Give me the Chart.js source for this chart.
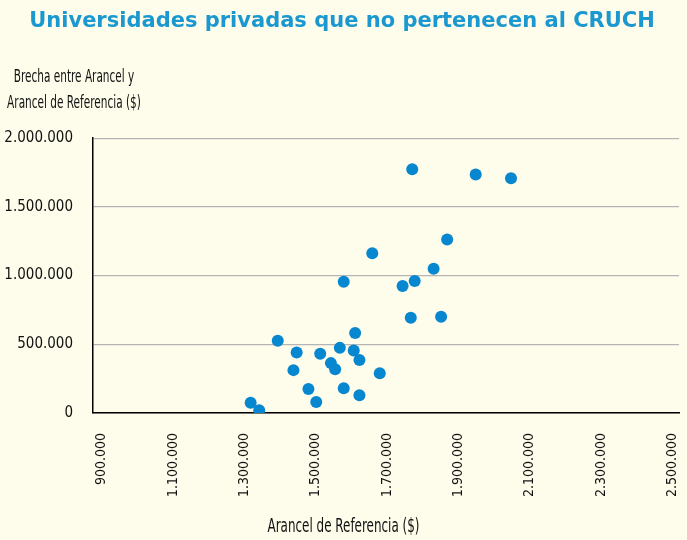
<!DOCTYPE html>
<html>
<head>
<meta charset="utf-8">
<script src="https://cdn.jsdelivr.net/npm/chart.js@4"></script>
<style>
    html, body { margin: 0; padding: 0; background: #fefcea; }
    #wrap { width: 687px; height: 540px; }
</style>
</head>
<body>
<div id="wrap"><canvas id="scatter-chart"></canvas></div>
<script>
// Arancel de referencia ($) de cada universidad
let aranceles = [1318000, 1342000, 1394000, 1447000, 1438000, 1480000, 1502000,
    1513000, 1543000, 1555000, 1568000, 1579000, 1579000, 1611000, 1607000,
    1623000, 1623000, 1659000, 1680000, 1744000, 1778000, 1767000, 1771000,
    1831000, 1852000, 1869000, 1949000, 2048000];
// Brecha entre arancel y arancel de referencia ($)
let brechas = [75000, 20000, 525000, 440000, 312000, 175000, 80000,
    431000, 363000, 319000, 474000, 956000, 180000, 582000, 455000,
    385000, 129000, 1163000, 290000, 925000, 961000, 693000, 1774000,
    1049000, 701000, 1263000, 1735000, 1708000];
let xTicks = [900000, 1100000, 1300000, 1500000, 1700000, 1900000, 2100000, 2300000, 2500000];
let yTicks = [0, 500000, 1000000, 1500000, 2000000];

let chartTitle = 'Universidades privadas que no pertenecen al CRUCH';
let xTitle = 'Arancel de Referencia ($)';
let yTitle = ['Brecha entre Arancel y', 'Arancel de Referencia ($)'];

let narrow = '"DejaVu Sans Condensed", "Liberation Sans Narrow", sans-serif';

function FormatNumber(v) {
    return String(v).replace(/\B(?=(\d{3})+(?!\d))/g, '.');
}

// squeeze the text sideways, the original uses a very condensed face
function DrawNarrowText(ctx, text, cx, cy, size, squeeze) {
    ctx.save();
    ctx.translate(cx, cy);
    ctx.scale(squeeze, 1);
    ctx.font = size + 'px ' + narrow;
    ctx.fillStyle = '#111';
    ctx.textAlign = 'center';
    ctx.textBaseline = 'middle';
    ctx.fillText(text, 0, 0);
    ctx.restore();
}

// axis captions: y caption sits horizontally above the axis, x caption centred on the page
let axisCaptions = {
    id: 'axisCaptions',
    afterDraw: function (chart) {
        let ctx = chart.ctx;
        let cx = chart.chartArea.left - 19;
        DrawNarrowText(ctx, yTitle[0], cx, 77, 18, 0.65);
        DrawNarrowText(ctx, yTitle[1], cx, 103, 18, 0.65);
        DrawNarrowText(ctx, xTitle, chart.width / 2, 527, 19, 0.7);
    }
};

function GenerateChart() {
    let points = aranceles.map(function (x, i) { return { x: x, y: brechas[i] }; });
    new Chart(document.getElementById('scatter-chart'), {
        type: 'scatter',
        data: {
            datasets: [{
                data: points,
                backgroundColor: '#0787cf',
                borderWidth: 0,
                pointRadius: 6,
                pointHoverRadius: 6,
            }]
        },
        options: {
            responsive: true,
            maintainAspectRatio: false,
            animation: false,
            layout: { padding: { left: 5, right: 8, top: 0, bottom: 38 } },
            plugins: {
                legend: { display: false },
                tooltip: { enabled: false },
                title: {
                    display: true,
                    text: chartTitle,
                    color: '#1b98cf',
                    font: { family: '"DejaVu Sans"', size: 21, weight: 'bold' },
                    padding: { top: 9, bottom: 104 }
                }
            },
            scales: {
                x: {
                    type: 'linear',
                    min: 876000,
                    max: 2519000,
                    afterBuildTicks: function (axis) {
                        axis.ticks = xTicks.map(function (v) { return { value: v }; });
                    },
                    afterFit: function (axis) {
                        axis.paddingLeft = 0;
                        axis.paddingRight = 0;
                        axis.height = 89;
                    },
                    grid: { display: false, drawTicks: false },
                    border: { display: true, color: '#000', width: 1.5 },
                    ticks: {
                        color: '#111',
                        font: { family: narrow, size: 14 },
                        minRotation: 90,
                        maxRotation: 90,
                        padding: 20,
                        callback: function (v) { return FormatNumber(v); }
                    }
                },
                y: {
                    min: 0,
                    max: 2000000,
                    afterBuildTicks: function (axis) {
                        axis.ticks = yTicks.map(function (v) { return { value: v }; });
                    },
                    afterFit: function (axis) {
                        axis.width = 88;
                    },
                    grid: { color: '#b5b5b5', lineWidth: 1.2, drawTicks: false },
                    border: { display: true, color: '#000', width: 1.5 },
                    ticks: {
                        color: '#111',
                        font: { family: narrow, size: 15 },
                        padding: 20,
                        callback: function (v) { return FormatNumber(v); }
                    }
                }
            }
        },
        plugins: [axisCaptions]
    });
}

window.onload = function () {
    GenerateChart();
}
</script>
</body>
</html>
